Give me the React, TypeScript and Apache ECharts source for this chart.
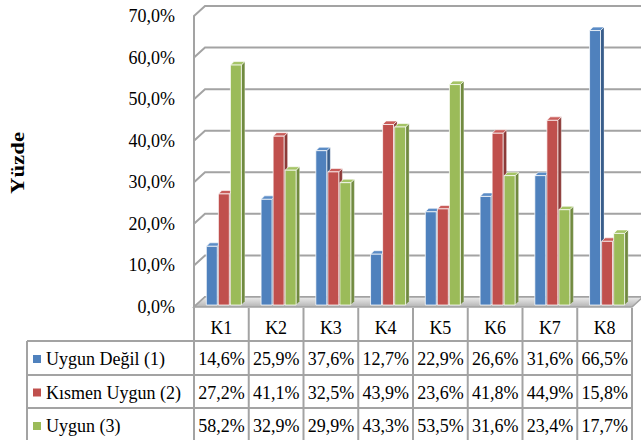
import React, { useEffect, useRef } from 'react';
import * as echarts from 'echarts';

const categories = ['K1', 'K2', 'K3', 'K4', 'K5', 'K6', 'K7', 'K8'];
const seriesNames = ['Uygun Değil (1)', 'Kısmen Uygun (2)', 'Uygun (3)'];
const uygunDegil = [14.6, 25.9, 37.6, 12.7, 22.9, 26.6, 31.6, 66.5];
const kismenUygun = [27.2, 41.1, 32.5, 43.9, 23.6, 41.8, 44.9, 15.8];
const uygun = [58.2, 32.9, 29.9, 43.3, 53.5, 31.6, 23.4, 17.7];
const yTicks = [0, 10, 20, 30, 40, 50, 60, 70];
const axisTitle = 'Yüzde';

const seriesValues = [uygunDegil, kismenUygun, uygun];

const FONT = 'Liberation Serif';
const FS = 18;
const PALETTE = [
  { front: '#4F81BD', side: '#385D8A', top: '#5B8CC6' },
  { front: '#C0504D', side: '#8C3A38', top: '#C95D5A' },
  { front: '#9BBB59', side: '#718A40', top: '#A5C466' },
];

// layout
const GRID_LEFT = 194;
const GRID_RIGHT_X = 632;
const GRID_TOP = 16;
const GRID_BOTTOM_Y = 307;
const DX = 11;
const DY = 10;
const TABLE_LEFT = 27;
const ROW_Y = [308, 341, 375, 408, 442];
const LINE_COLOR = '#a3a3a3';

const fmt = (v: number) => v.toFixed(1).replace('.', ',') + '%';

export default function App() {
  const ref = useRef<HTMLDivElement>(null);
  useEffect(() => {
    document.body.style.margin = '0';
    if (!ref.current) return;
    const chart = echarts.init(ref.current, undefined, { renderer: 'svg' });
    const colW = (GRID_RIGHT_X - GRID_LEFT) / categories.length;

    const wallSeries: any = {
      type: 'custom',
      z: 1,
      silent: true,
      encode: { x: 0, y: 1 },
      data: yTicks.map((v) => [0, v]),
      renderItem: (params: any, api: any) => {
        const p = api.coord([0, api.value(1)]);
        const cs = params.coordSys;
        const left = cs.x;
        const right = cs.x + cs.width + DX + 4;
        return {
          type: 'polyline',
          shape: { points: [[left, p[1]], [left + DX, p[1] - DY], [right, p[1] - DY]] },
          style: { stroke: LINE_COLOR, lineWidth: 2, fill: null },
        };
      },
    };

    const floorSeries: any = {
      type: 'custom',
      z: 2,
      silent: true,
      encode: { x: 0, y: 1 },
      data: [[0, 0]],
      renderItem: (params: any, api: any) => {
        const y0 = api.coord([0, 0])[1];
        const cs = params.coordSys;
        const l = cs.x;
        const r = cs.x + cs.width;
        return {
          type: 'polygon',
          shape: { points: [[l, y0], [r, y0], [r + DX, y0 - DY], [l + DX, y0 - DY]] },
          style: {
            fill: new echarts.graphic.LinearGradient(0, 0, 0, 1, [
              { offset: 0, color: '#ececec' },
              { offset: 1, color: '#b4b4b4' },
            ]),
            stroke: LINE_COLOR,
            lineWidth: 1.5,
          },
        };
      },
    };

    const barSeries: any[] = seriesValues.map((vals, s) => ({
      type: 'custom',
      name: seriesNames[s],
      z: 3 + s,
      encode: { x: 0, y: 1 },
      data: vals.map((v, i) => [i, v]),
      renderItem: (params: any, api: any) => {
        const i = api.value(0);
        const v = api.value(1);
        const c = api.coord([i, v]);
        const base = api.coord([i, 0]);
        const bw = api.size([1, 0])[0];
        const slot = bw * 0.22;
        const w = bw * 0.2;
        const x = c[0] + bw * 0.055 - 1.5 * slot + s * slot;
        const yTop = c[1];
        const yBase = base[1] - 2;
        const d = 3.5;
        const col = PALETTE[s];
        return {
          type: 'group',
          children: [
            {
              type: 'polygon',
              shape: { points: [[x + w, yTop], [x + w + d, yTop - d], [x + w + d, yBase - d], [x + w, yBase]] },
              style: { fill: col.side, stroke: 'rgba(255,255,255,0.5)', lineWidth: 0.6 },
            },
            {
              type: 'polygon',
              shape: { points: [[x, yTop], [x + w, yTop], [x + w + d, yTop - d], [x + d, yTop - d]] },
              style: { fill: col.top, stroke: 'rgba(255,255,255,0.8)', lineWidth: 0.8 },
            },
            {
              type: 'rect',
              shape: { x, y: yTop, width: w, height: yBase - yTop },
              style: { fill: col.front, stroke: 'rgba(255,255,255,0.75)', lineWidth: 1 },
            },
          ],
        };
      },
    }));

    const graphics: any[] = [];
    for (let i = 0; i <= categories.length; i++) {
      const x = GRID_LEFT + i * colW;
      graphics.push({
        type: 'line',
        shape: { x1: x, y1: ROW_Y[0], x2: x, y2: ROW_Y[4] },
        style: { stroke: LINE_COLOR, lineWidth: 2 },
      });
    }
    graphics.push({
      type: 'line',
      shape: { x1: TABLE_LEFT, y1: ROW_Y[1], x2: TABLE_LEFT, y2: ROW_Y[4] },
      style: { stroke: LINE_COLOR, lineWidth: 2 },
    });
    for (let r = 1; r <= 3; r++) {
      graphics.push({
        type: 'line',
        shape: { x1: TABLE_LEFT, y1: ROW_Y[r], x2: GRID_RIGHT_X, y2: ROW_Y[r] },
        style: { stroke: LINE_COLOR, lineWidth: 2 },
      });
    }
    seriesValues.forEach((vals, s) => {
      const yc = (ROW_Y[s + 1] + ROW_Y[s + 2]) / 2 + 1;
      graphics.push({
        type: 'rect',
        shape: { x: 33, y: yc - 4, width: 8, height: 8 },
        style: { fill: PALETTE[s].front },
      });
      graphics.push({
        type: 'text',
        x: 46,
        y: yc,
        style: { text: seriesNames[s], fill: '#000', fontSize: FS, fontFamily: FONT, align: 'left', verticalAlign: 'middle' },
      });
      vals.forEach((v, i) => {
        graphics.push({
          type: 'text',
          x: GRID_LEFT + (i + 0.5) * colW,
          y: yc,
          style: { text: fmt(v), fill: '#000', fontSize: FS, fontFamily: FONT, align: 'center', verticalAlign: 'middle' },
        });
      });
    });
    graphics.push({
      type: 'text',
      x: 18,
      y: 163,
      rotation: Math.PI / 2,
      scaleX: 1.2,
      style: { text: axisTitle, fill: '#000', fontSize: 19, fontWeight: 'bold', fontFamily: FONT, align: 'center', verticalAlign: 'middle' },
    });

    chart.setOption({
      animation: false,
      grid: {
        left: GRID_LEFT,
        top: GRID_TOP,
        width: GRID_RIGHT_X - GRID_LEFT,
        height: GRID_BOTTOM_Y - GRID_TOP,
        containLabel: false,
      },
      xAxis: {
        type: 'category',
        data: categories,
        axisLine: { show: false },
        axisTick: { show: false },
        axisLabel: { color: '#000', fontSize: FS, fontFamily: FONT, margin: 12, lineHeight: 18 },
        splitLine: { show: false },
      },
      yAxis: {
        type: 'value',
        min: 0,
        max: 70,
        interval: 10,
        axisLine: { show: true, lineStyle: { color: LINE_COLOR, width: 2 } },
        axisTick: { show: false },
        splitLine: { show: false },
        axisLabel: {
          color: '#000',
          fontSize: FS,
          fontFamily: FONT,
          margin: 19,
          padding: [6, 0, 0, 0],
          formatter: (v: number) => fmt(v),
        },
      },
      series: [wallSeries, floorSeries, ...barSeries],
      graphic: graphics,
    });
    return () => chart.dispose();
  }, []);
  return <div ref={ref} style={{ width: 641, height: 440 }} />;
}
